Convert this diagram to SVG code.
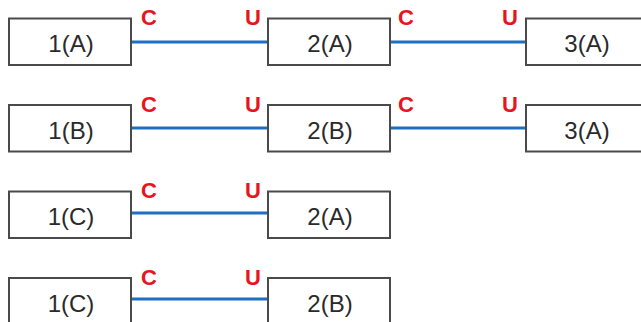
<svg xmlns="http://www.w3.org/2000/svg" width="641" height="322" viewBox="0 0 641 322">
<style>
.box rect{fill:#fff;stroke:#4a4a4a;stroke-width:2}
.box text{font-family:"Liberation Sans",Arial,sans-serif;font-size:24px;fill:#2a2a2a;text-anchor:middle}
.lbl{font-family:"Liberation Sans",Arial,sans-serif;font-size:22px;font-weight:bold;fill:#e8141e}
.conn line{stroke:#1f6fc0;stroke-width:3}
</style>
<rect width="641" height="322" fill="#fff"/>
<g id="connectors" class="conn">
<line x1="131" y1="42" x2="268" y2="42"/>
<line x1="390" y1="42" x2="526" y2="42"/>
<line x1="131" y1="128" x2="268" y2="128"/>
<line x1="390" y1="128" x2="526" y2="128"/>
<line x1="131" y1="213" x2="268" y2="213"/>
<line x1="131" y1="299" x2="268" y2="299"/>
</g>
<g id="row1-1A" class="box"><rect x="9" y="18.5" width="122" height="46.5"/><text x="71" y="52">1(A)</text></g>
<g id="row1-2A" class="box"><rect x="268" y="18.5" width="122" height="46.5"/><text x="330" y="52">2(A)</text></g>
<g id="row1-3A" class="box"><rect x="526" y="18.5" width="122" height="46.5"/><text x="587" y="52">3(A)</text></g>
<g id="row2-1B" class="box"><rect x="9" y="105" width="122" height="46.5"/><text x="71" y="138.5">1(B)</text></g>
<g id="row2-2B" class="box"><rect x="268" y="105" width="122" height="46.5"/><text x="330" y="138.5">2(B)</text></g>
<g id="row2-3A" class="box"><rect x="526" y="105" width="122" height="46.5"/><text x="587" y="138.5">3(A)</text></g>
<g id="row3-1C" class="box"><rect x="9" y="191.5" width="122" height="46.5"/><text x="71" y="225">1(C)</text></g>
<g id="row3-2A" class="box"><rect x="268" y="191.5" width="122" height="46.5"/><text x="330" y="225">2(A)</text></g>
<g id="row4-1C" class="box"><rect x="9" y="278" width="122" height="46.5"/><text x="71" y="311.5">1(C)</text></g>
<g id="row4-2B" class="box"><rect x="268" y="278" width="122" height="46.5"/><text x="330" y="311.5">2(B)</text></g>
<g id="labels">
<text class="lbl" x="141" y="25">C</text>
<text class="lbl" x="245" y="25">U</text>
<text class="lbl" x="398" y="25">C</text>
<text class="lbl" x="502" y="25">U</text>
<text class="lbl" x="141" y="111.5">C</text>
<text class="lbl" x="245" y="111.5">U</text>
<text class="lbl" x="398" y="111.5">C</text>
<text class="lbl" x="502" y="111.5">U</text>
<text class="lbl" x="141" y="198">C</text>
<text class="lbl" x="245" y="198">U</text>
<text class="lbl" x="141" y="284.5">C</text>
<text class="lbl" x="245" y="284.5">U</text>
</g>
</svg>
